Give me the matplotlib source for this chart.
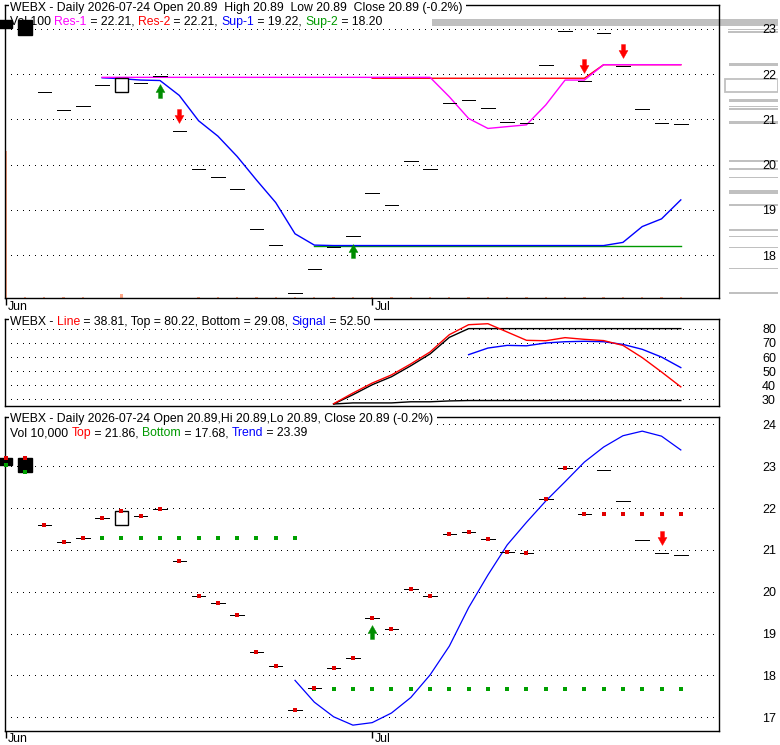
import numpy as np
import matplotlib
matplotlib.use("Agg")
import matplotlib.pyplot as plt
import matplotlib.transforms as mtransforms
from matplotlib.path import Path
from matplotlib.patches import Rectangle

FONT = ["Liberation Sans", "DejaVu Sans"]
plt.rcParams["font.family"] = FONT

# ---------------- data ----------------
month_labels = ["Jun", "Jul"]
month_pos = [0, 19]

opens = [23.19, 23.19, 21.60, 21.20, 21.29, 21.76, 21.60, 21.80, 21.97, 20.74,
         19.90, 19.72, 19.45, 18.57, 18.23, 17.17, 17.69, 18.17, 18.42, 19.37,
         19.11, 20.07, 19.90, 21.37, 21.42, 21.26, 20.95, 20.92, 22.21, 22.95,
         21.85, 22.90, 22.18, 21.23, 20.93, 20.89]
closes = [23.03, 22.87, 21.60, 21.20, 21.29, 21.76, 21.92, 21.80, 21.97, 20.74,
          19.90, 19.72, 19.45, 18.57, 18.23, 17.17, 17.69, 18.17, 18.42, 19.37,
          19.11, 20.07, 19.90, 21.37, 21.42, 21.26, 20.95, 20.92, 22.21, 22.95,
          21.85, 22.90, 22.18, 21.23, 20.93, 20.89]
volumes = [14700, 100, 100, 100, 100, 0, 400, 0, 0, 0] + [100] * 26

# top panel indicators
res1 = [None] * 5 + [21.93] * 18 + [21.50, 21.02, 20.80, 20.84, 20.88, 21.32,
                                     21.87, 21.87, 22.21, 22.21, 22.21, 22.21, 22.21]
res2 = [None] * 19 + [21.91] * 12 + [22.21] * 5
sup1 = [None] * 5 + [21.92, 21.90, 21.87, 21.86, 21.53, 20.97, 20.63, 20.18,
                     19.66, 19.16, 18.47, 18.22] + [18.21] * 15 + [18.28, 18.63, 18.80, 19.22]
sup2 = [None] * 16 + [18.20] * 20
sell_top = [9, 30, 32]
buy_top = [8, 18]

# volume-at-price bars (right side of the top panel)
pv_price = [23.144, 22.989, 22.934, 22.215, 21.750, 21.418, 21.285, 21.230, 20.931,
            20.080, 19.903, 19.715, 19.416, 19.372, 19.106, 18.553, 18.409, 18.166,
            17.701, 17.159]
pv_len = [347, 50, 50, 49, 53, 49, 49, 49, 49, 49, 49, 49, 49, 49, 49, 49, 49, 49, 49, 49]
pv_thick = [0.155, 0.03, 0.025, 0.066, 0.288, 0.066, 0.03, 0.04, 0.066, 0.05, 0.05,
            0.025, 0.03, 0.03, 0.05, 0.05, 0.03, 0.03, 0.03, 0.05]
pv_hollow = [False, False, False, False, True] + [False] * 15

# middle panel
line_vals = [None] * 17 + [26.8, 34.4, 41.5, 47.3, 55.1, 63.6, 75.9, 83.0, 83.7, 77.8,
                           71.9, 71.6, 73.8, 72.6, 71.7, 68.3, 59.6, 49.4, 38.81]
top_vals = [None] * 17 + [26.6, 33.2, 40.3, 46.0, 53.8, 62.2, 74.0] + [80.22] * 12
bottom_vals = [None] * 17 + [26.6, 27.4, 27.4, 27.4, 28.2, 28.2, 28.8] + [29.08] * 12
signal_vals = [None] * 24 + [61.7, 66.4, 68.3, 68.0, 70.0, 70.9, 71.2, 70.9, 69.0,
                             65.5, 60.0, 52.50]

# bottom panel
top_marks = [23.19, 23.19, 21.60, 21.20, 21.29, 21.76, 21.92, 21.80, 21.97, 20.74,
             19.90, 19.72, 19.45, 18.57, 18.23, 17.17, 17.69, 18.17, 18.42, 19.37,
             19.11, 20.07, 19.90, 21.37, 21.42, 21.26, 20.95, 20.92, 22.21, 22.95,
             21.86, 21.86, 21.86, 21.86, 21.86, 21.86]
bottom_marks = [23.03, 22.87, None, None] + [21.29] * 12 + [17.68] * 20
trend_vals = [None] * 15 + [17.88, 17.36, 17.01, 16.81, 16.87, 17.10, 17.47, 18.01,
                            18.70, 19.62, 20.40, 21.12, 21.66, 22.17, 22.63, 23.10,
                            23.46, 23.73, 23.84, 23.72, 23.39]
sell_bot = [34]
buy_bot = [19]

price_ticks_top = [18, 19, 20, 21, 22, 23]
osc_ticks = [30, 40, 50, 60, 70, 80]
price_ticks_bot = [17, 18, 19, 20, 21, 22, 23, 24]

hdr_top1 = [("WEBX - Daily 2026-07-24 Open 20.89  High 20.89  Low 20.89  Close 20.89 (-0.2%)", "black")]
hdr_top2 = [("Vol 100 ", "black"), ("Res-1", "#ff00ff"), (" = 22.21, ", "black"),
            ("Res-2", "#ff0000"), (" = 22.21, ", "black"), ("Sup-1", "#0000ff"),
            (" = 19.22, ", "black"), ("Sup-2", "#009900"), (" = 18.20", "black")]
hdr_mid = [("WEBX - ", "black"), ("Line", "#ff0000"),
           (" = 38.81, Top = 80.22, Bottom = 29.08, ", "black"),
           ("Signal", "#0000ff"), (" = 52.50", "black")]
hdr_bot1 = [("WEBX - Daily 2026-07-24 Open 20.89,Hi 20.89,Lo 20.89, Close 20.89 (-0.2%)", "black")]
hdr_bot2 = [("Vol 10,000 ", "black"), ("Top", "#ff0000"), (" = 21.86, ", "black"),
            ("Bottom", "#009900"), (" = 17.68, ", "black"), ("Trend", "#0000ff"),
            (" = 23.39", "black")]

# ---------------- figure ----------------
W, H, DPI = 780, 745, 100
fig = plt.figure(figsize=(W / DPI, H / DPI), dpi=DPI, facecolor="white")

def rect(l, t, r, b):
    return [l / W, 1 - b / H, (r - l) / W, (b - t) / H]

XLIM = (-0.036, 36.98)
x = np.arange(len(closes))
f = lambda v: np.array(v, dtype=float)

TOP_YL = (17.05, 23.53)
MID_YL = (25.2, 86.7)
BOT_YL = (16.67, 24.19)
GRID_LS = (0, (1, 5.3))

# volume-at-price overlay (behind)
axpv = fig.add_axes(rect(0, 5, 778, 298))
axpv.set_xlim(780, 0)
axpv.set_ylim(TOP_YL)
axpv.axis("off")
for p, ln, th, hol in zip(pv_price, pv_len, pv_thick, pv_hollow):
    if hol:
        axpv.barh(p, ln, height=th, left=0, facecolor="none", edgecolor="#c0c0c0", lw=1.3)
    else:
        axpv.barh(p, ln, height=th, left=0, color="#c0c0c0", lw=0)

# volume overlay
axv = fig.add_axes(rect(5, 5, 719, 298))
axv.set_xlim(XLIM)
axv.set_ylim(0, 29300)
axv.axis("off")
axv.bar(x, volumes, width=0.12, color="#ffa888", lw=0)

ax1 = fig.add_axes(rect(5, 5, 719, 298))
ax2 = fig.add_axes(rect(5, 319.5, 719, 406))
ax3 = fig.add_axes(rect(5, 416.5, 719, 731))

def style(ax, ylim, ticks, months=True):
    ax.set_facecolor("none")
    ax.set_xlim(XLIM)
    ax.set_ylim(ylim)
    ax.set_yticks(ticks)
    ax.set_yticklabels([str(t) for t in ticks])
    ax.yaxis.tick_right()
    ax.tick_params(axis="y", length=0, pad=31, labelsize=9, labelcolor="black")
    ax.yaxis.grid(True, linestyle=GRID_LS, color="black", lw=0.72, antialiased=False)
    ax.set_axisbelow(True)
    for s in ax.spines.values():
        s.set_linewidth(1.0)
        s.set_color("black")
    if months:
        ax.set_xticks(month_pos)
        ax.set_xticklabels([])
        ax.tick_params(axis="x", length=5, width=1, direction="out", color="black")
        tr = mtransforms.offset_copy(
            mtransforms.blended_transform_factory(ax.transData, ax.transAxes),
            fig=fig, x=2.5, y=-11.5, units="dots")
        for p, lab in zip(month_pos, month_labels):
            ax.text(p, 0, lab, transform=tr, fontsize=8.8, ha="left", va="baseline",
                    clip_on=False)
    else:
        ax.set_xticks([])

style(ax1, TOP_YL, price_ticks_top)
style(ax2, MID_YL, osc_ticks, months=False)
style(ax3, BOT_YL, price_ticks_bot)

def candles(ax):
    for i, (o, c) in enumerate(zip(opens, closes)):
        clip = i > 0
        if abs(c - o) < 0.005:
            ax.hlines(c, i - 0.35, i + 0.35, color="black", lw=0.6, clip_on=clip,
                      zorder=3, antialiased=False)
        else:
            ax.bar(i, c - o, bottom=o, width=0.7, facecolor="white" if c > o else "black",
                   edgecolor="black", lw=1.0, clip_on=clip, zorder=3)

arrow_down = Path([(-2, 7), (2, 7), (2, 1), (4.5, 1), (0, -7), (-4.5, 1), (-2, 1), (-2, 7)],
                  [Path.MOVETO] + [Path.LINETO] * 6 + [Path.CLOSEPOLY])
arrow_up = Path([(-2, -7), (2, -7), (2, -1), (4.5, -1), (0, 7), (-4.5, -1), (-2, -1), (-2, -7)],
                [Path.MOVETO] + [Path.LINETO] * 6 + [Path.CLOSEPOLY])

def arrows(ax, idxs, marker, dy, color):
    tr = mtransforms.offset_copy(ax.transData, fig=fig, x=0, y=dy, units="dots")
    for i in idxs:
        ax.plot([i], [closes[i]], marker=marker, ms=10, color=color, mec=color, mew=0.3,
                ls="none", transform=tr, zorder=5)

# top panel
ax1.plot(x, f(sup2), color="#009900", lw=1.0, zorder=2)
ax1.plot(x, f(sup1), color="#0000ff", lw=1.0, zorder=2)
ax1.plot(x, f(res2), color="#ff0000", lw=1.0, zorder=2)
ax1.plot(x, f(res1), color="#ff00ff", lw=1.0, zorder=2)
candles(ax1)
arrows(ax1, sell_top, arrow_down, 15, "#ff0000")
arrows(ax1, buy_top, arrow_up, -15, "#008c00")

# middle panel
ax2.plot(x, f(bottom_vals), color="black", lw=1.0)
ax2.plot(x, f(top_vals), color="black", lw=1.0)
ax2.plot(x, f(signal_vals), color="#0000ff", lw=1.0)
ax2.plot(x, f(line_vals), color="#ff0000", lw=1.0)

# bottom panel
ax3.plot(x, f(trend_vals), color="#0000ff", lw=0.9, zorder=2)
candles(ax3)
ax3.plot(x, f(bottom_marks), ls="none", marker="s", ms=2.4, mew=0, color="#00a000",
         zorder=4, clip_on=False)
ax3.plot(x, f(top_marks), ls="none", marker="s", ms=2.4, mew=0, color="#e00000",
         zorder=4, clip_on=False)
arrows(ax3, sell_bot, arrow_down, 14.5, "#ff0000")
arrows(ax3, buy_bot, arrow_up, -14, "#008c00")

# ---------------- header texts ----------------
renderer = fig.canvas.get_renderer()
FS = 8.8

def px_text(xp, yp, s, color="black", z=5):
    return fig.text(xp / W, 1 - yp / H, s, color=color, fontsize=FS, ha="left",
                    va="baseline", zorder=z)

def width_px(s):
    t = fig.text(0, 0, s + "|", fontsize=FS)
    a = t.get_window_extent(renderer).width
    t.set_text("|")
    b = t.get_window_extent(renderer).width
    t.remove()
    return a - b

def rich(xp, yp, pieces, bg=False):
    if bg:
        wtot = width_px("".join(p for p, _ in pieces))
        fig.add_artist(Rectangle(((xp - 1.5) / W, 1 - (yp + 3) / H), (wtot + 5) / W, 14 / H,
                                 transform=fig.transFigure, facecolor="white",
                                 edgecolor="none", zorder=4))
    acc = ""
    for s, c in pieces:
        px_text(xp + width_px(acc), yp, s, color=c, z=5)
        acc += s

rich(10, 11, hdr_top1, bg=True)
rich(10, 25, hdr_top2)
rich(10, 325, hdr_mid, bg=True)
rich(10, 422.3, hdr_bot1, bg=True)
rich(10, 436, hdr_bot2)

fig.savefig("out.png", dpi=DPI, facecolor="white")
